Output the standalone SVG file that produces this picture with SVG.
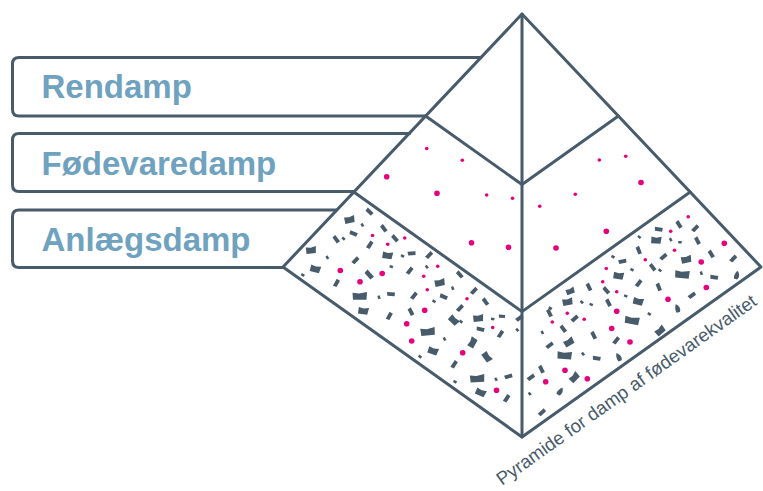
<svg xmlns="http://www.w3.org/2000/svg" xmlns:xlink="http://www.w3.org/1999/xlink" width="763" height="491" viewBox="0 0 763 491">
  <style>
    .line { fill: none; stroke: #485b6b; stroke-width: 3; stroke-linejoin: round; stroke-linecap: round; }
    .label { font-family: "Liberation Sans", Arial, sans-serif; font-weight: bold; font-size: 33px; fill: #6fa2bf; }
    .caption { font-family: "Liberation Sans", Arial, sans-serif; font-size: 18.6px; fill: #485b6b; }
    .fleck { fill: #485b6b; }
    .dot { fill: #e6007e; }
  </style>
  <defs>
    <polygon id="fA" class="fleck" points="-5,-3 0,-2.3 5.2,-3.6 4.6,3.4 -4.8,3.6"/>
    <polygon id="fB" class="fleck" points="-7.5,-3.3 -1,-2.4 7,-3.9 6.5,3.8 -7,3.8"/>
    <polygon id="fC" class="fleck" points="-4,-2.1 4,-1.6 3.6,2.2 -3.7,1.8"/>
    <polygon id="fD" class="fleck" points="-1.8,-1.2 1.8,-1.3 1.6,1.3 -1.7,1.2"/>
    <path id="fE" class="fleck" d="M0,-4.4 C2.8,-2.2 3.3,2.2 1.1,4.4 L-2.2,3.9 C-2.9,1.1 -1.7,-2.2 0,-4.4Z"/>
    <circle id="ds" class="dot" r="1.8"/>
    <circle id="dl" class="dot" r="2.8"/>
  </defs>

  <!-- label boxes, open on the pyramid side -->
  <g id="rendamp">
    <path class="line" d="M481,57.5 H19 Q12.5,57.5 12.5,64 V109.5 Q12.5,116 19,116 H425.6"/>
    <text class="label" x="41.5" y="98">Rendamp</text>
  </g>
  <g id="foedevaredamp">
    <path class="line" d="M409.6,133.5 H19 Q12.5,133.5 12.5,140 V185 Q12.5,191.5 19,191.5 H354"/>
    <text class="label" x="41.5" y="175">Fødevaredamp</text>
  </g>
  <g id="anlaegsdamp">
    <path class="line" d="M336.5,210 H19 Q12.5,210 12.5,216.5 V261 Q12.5,267.5 19,267.5 H283"/>
    <text class="label" x="41.5" y="251">Anlægsdamp</text>
  </g>

  <!-- middle tier: sparse particles -->
  <g id="tier-middle-texture">
    <use href="#ds" x="426.7" y="148.5"/>
    <use href="#ds" x="462.3" y="160.3"/>
    <use href="#dl" x="386.7" y="176.7"/>
    <use href="#dl" x="437" y="193.3"/>
    <use href="#ds" x="486.7" y="195"/>
    <use href="#ds" x="512.5" y="198.3"/>
    <use href="#dl" x="471.5" y="242.7"/>
    <use href="#dl" x="508.5" y="247.3"/>
    <use href="#ds" x="599.3" y="160"/>
    <use href="#ds" x="625.7" y="156.3"/>
    <use href="#dl" x="641" y="182.5"/>
    <use href="#ds" x="575.3" y="194.3"/>
    <use href="#ds" x="539.7" y="206.2"/>
    <use href="#dl" x="606.3" y="231.3"/>
    <use href="#dl" x="556" y="248"/>
  </g>

  <!-- bottom tier: dense flecks and particles -->
  <g id="tier-bottom-texture">
    <!-- left face -->
    <use href="#fC" transform="translate(369.5,211.7) rotate(40)"/>
    <use href="#fA" transform="translate(349.5,219.5) rotate(-10)"/>
    <use href="#fD" transform="translate(362.3,225) rotate(60)"/>
    <use href="#fC" transform="translate(383.8,228.3) rotate(50)"/>
    <use href="#fC" transform="translate(353.5,233.5) rotate(20)"/>
    <use href="#fC" transform="translate(336.2,239.3) rotate(50)"/>
    <use href="#fD" transform="translate(343.5,238.7) rotate(40)"/>
    <use href="#fC" transform="translate(395,238.3) rotate(45)"/>
    <use href="#fC" transform="translate(369.8,244.8) rotate(-60)"/>
    <use href="#fA" transform="translate(311,250) rotate(-5)"/>
    <use href="#fA" transform="translate(387.5,255.2) rotate(10)"/>
    <use href="#fD" transform="translate(327.3,257.5) rotate(60)"/>
    <use href="#fC" transform="translate(355.5,260.3) rotate(-50)"/>
    <use href="#fD" transform="translate(402.5,256) rotate(30)"/>
    <use href="#fC" transform="translate(411.7,253.3) rotate(-8)"/>
    <use href="#fC" transform="translate(429.2,255) rotate(-50)"/>
    <use href="#fA" transform="translate(315.3,268.8) rotate(15)"/>
    <use href="#fC" transform="translate(369.2,274.7) rotate(45) scale(1.2)"/>
    <use href="#fC" transform="translate(409.7,270.7) rotate(-55)"/>
    <use href="#fD" transform="translate(426.8,267) rotate(50)"/>
    <use href="#fD" transform="translate(302.8,275) rotate(30)"/>
    <use href="#fC" transform="translate(336.5,283) rotate(-65)"/>
    <use href="#fC" transform="translate(459.8,274.5) rotate(45)"/>
    <use href="#fA" transform="translate(439.7,282.5) rotate(-10)"/>
    <use href="#fD" transform="translate(452.7,288.2) rotate(70)"/>
    <use href="#fB" transform="translate(360,296) rotate(0)"/>
    <use href="#fD" transform="translate(379,297.3) rotate(70)"/>
    <use href="#fC" transform="translate(391,294) rotate(0)"/>
    <use href="#fC" transform="translate(414,295.7) rotate(-55)"/>
    <use href="#fC" transform="translate(443.7,296.7) rotate(20)"/>
    <use href="#fC" transform="translate(474,290.8) rotate(-50)"/>
    <use href="#fC" transform="translate(485.5,301.7) rotate(50)"/>
    <use href="#fD" transform="translate(434,301.3) rotate(30)"/>
    <use href="#fA" transform="translate(363.3,310.7) rotate(10)"/>
    <use href="#fC" transform="translate(389.3,316) rotate(-65)"/>
    <use href="#fC" transform="translate(411,311.7) rotate(60)"/>
    <use href="#fC" transform="translate(460,308) rotate(-50)"/>
    <use href="#fA" transform="translate(453.8,320) rotate(45)"/>
    <use href="#fD" transform="translate(461,321.7) rotate(40)"/>
    <use href="#fA" transform="translate(478.2,318) rotate(-5)"/>
    <use href="#fC" transform="translate(502,316.3) rotate(0) scale(0.8)"/>
    <use href="#fD" transform="translate(492.7,319) rotate(10)"/>
    <use href="#fC" transform="translate(519.5,318) rotate(-40)"/>
    <use href="#fB" transform="translate(428,331.5) rotate(-5)"/>
    <use href="#fC" transform="translate(480.5,329.2) rotate(10)"/>
    <use href="#fC" transform="translate(500.5,334) rotate(-60)"/>
    <use href="#fD" transform="translate(517.3,330) rotate(50)"/>
    <use href="#fD" transform="translate(444.5,339) rotate(60)"/>
    <use href="#fA" transform="translate(472.3,342.5) rotate(-60)"/>
    <use href="#fA" transform="translate(433,350.7) rotate(20)"/>
    <use href="#fA" transform="translate(487,356.7) rotate(55)"/>
    <use href="#fC" transform="translate(454.2,364.3) rotate(-60)"/>
    <use href="#fD" transform="translate(420,356.7) rotate(40)"/>
    <use href="#fB" transform="translate(477.5,378.3) rotate(-3)"/>
    <use href="#fD" transform="translate(496,379.3) rotate(60)"/>
    <use href="#fC" transform="translate(508.5,376.3) rotate(-20)"/>
    <use href="#fD" transform="translate(455,381.7) rotate(30)"/>
    <use href="#fA" transform="translate(480.7,392.3) rotate(25)"/>
    <use href="#fC" transform="translate(506.7,398.3) rotate(-60)"/>
    <use href="#fD" transform="translate(391.3,266.7) rotate(20)"/>

    <use href="#ds" x="372.5" y="235.5"/>
    <use href="#ds" x="387.7" y="244.2"/>
    <use href="#ds" x="404.7" y="238"/>
    <use href="#dl" x="340.3" y="270.5"/>
    <use href="#dl" x="382.2" y="273.5"/>
    <use href="#dl" x="360" y="281.7"/>
    <use href="#ds" x="437.7" y="266.2"/>
    <use href="#ds" x="423.7" y="276.3"/>
    <use href="#ds" x="427.3" y="289.8"/>
    <use href="#ds" x="467" y="298.8"/>
    <use href="#dl" x="424.7" y="310.3"/>
    <use href="#dl" x="406.7" y="323.7"/>
    <use href="#ds" x="492.7" y="327.5"/>
    <use href="#dl" x="411.7" y="341"/>
    <use href="#dl" x="462.7" y="352.7"/>
    <use href="#dl" x="496.5" y="390.2"/>

    <!-- right face -->
    <use href="#fC" transform="translate(679,224.5) rotate(55)"/>
    <use href="#fC" transform="translate(658.7,229.3) rotate(5)"/>
    <use href="#fC" transform="translate(695.3,228.3) rotate(-50)"/>
    <use href="#fA" transform="translate(656.2,240) rotate(5)"/>
    <use href="#fD" transform="translate(670.7,239.7) rotate(60)"/>
    <use href="#fD" transform="translate(680,242.2) rotate(0)"/>
    <use href="#fC" transform="translate(697.5,240.7) rotate(60)"/>
    <use href="#fD" transform="translate(639.3,237) rotate(40)"/>
    <use href="#fC" transform="translate(638.8,250.3) rotate(65)"/>
    <use href="#fC" transform="translate(663.5,256.7) rotate(-45)"/>
    <use href="#fA" transform="translate(686.2,259.3) rotate(-10)"/>
    <use href="#fC" transform="translate(711.3,254) rotate(55)"/>
    <use href="#fC" transform="translate(733.3,258.5) rotate(-50)"/>
    <use href="#fC" transform="translate(622.5,261.3) rotate(-15)"/>
    <use href="#fD" transform="translate(613,256.7) rotate(30)"/>
    <use href="#fC" transform="translate(652.7,267.3) rotate(50)"/>
    <use href="#fD" transform="translate(660,270.3) rotate(40)"/>
    <use href="#fD" transform="translate(632,269.7) rotate(30)"/>
    <use href="#fB" transform="translate(682.5,274.3) rotate(5)"/>
    <use href="#fD" transform="translate(701.3,273.2) rotate(70)"/>
    <use href="#fC" transform="translate(714.2,277.3) rotate(5)"/>
    <use href="#fE" transform="translate(736.7,275) rotate(10)"/>
    <use href="#fA" transform="translate(618.5,275.5) rotate(10)"/>
    <use href="#fC" transform="translate(638.7,283.3) rotate(-55)"/>
    <use href="#fC" transform="translate(589,287) rotate(60)"/>
    <use href="#fA" transform="translate(570.2,291) rotate(-20) scale(0.85)"/>
    <use href="#fC" transform="translate(606.3,290.3) rotate(45)"/>
    <use href="#fD" transform="translate(625.7,296) rotate(20)"/>
    <use href="#fC" transform="translate(658.8,287) rotate(65)"/>
    <use href="#fC" transform="translate(692,295.3) rotate(-40)"/>
    <use href="#fE" transform="translate(677.3,308.3) rotate(-20)"/>
    <use href="#fA" transform="translate(638.2,301.2) rotate(15)"/>
    <use href="#fA" transform="translate(567.5,301.7) rotate(-10)"/>
    <use href="#fD" transform="translate(581.8,302.2) rotate(40)"/>
    <use href="#fD" transform="translate(591.2,304.5) rotate(20)"/>
    <use href="#fC" transform="translate(608.5,302.7) rotate(60)"/>
    <use href="#fD" transform="translate(550.3,308.3) rotate(30)"/>
    <use href="#fC" transform="translate(549.5,313) rotate(60)"/>
    <use href="#fC" transform="translate(574.7,318.5) rotate(-45)"/>
    <use href="#fC" transform="translate(563.3,328.8) rotate(50)"/>
    <use href="#fD" transform="translate(542.3,332.5) rotate(60)"/>
    <use href="#fB" transform="translate(632.3,320.3) rotate(10)"/>
    <use href="#fD" transform="translate(649.3,314) rotate(30)"/>
    <use href="#fA" transform="translate(660,330.7) rotate(-40)"/>
    <use href="#fC" transform="translate(593.7,335.3) rotate(60)"/>
    <use href="#fC" transform="translate(616.2,340.5) rotate(-55)"/>
    <use href="#fA" transform="translate(568.8,342) rotate(-30)"/>
    <use href="#fC" transform="translate(549.7,345.2) rotate(-40)"/>
    <use href="#fD" transform="translate(583,354) rotate(50)"/>
    <use href="#fC" transform="translate(596.7,358.3) rotate(5)"/>
    <use href="#fB" transform="translate(564.8,355.2) rotate(5)"/>
    <use href="#fE" transform="translate(618.5,357) rotate(-30)"/>
    <use href="#fC" transform="translate(541.5,369.3) rotate(60)"/>
    <use href="#fC" transform="translate(531,377.3) rotate(-40)"/>
    <use href="#fA" transform="translate(574.2,377.3) rotate(-45)"/>
    <use href="#fE" transform="translate(560.2,391.2) rotate(30)"/>
    <use href="#fD" transform="translate(529.7,393.8) rotate(50)"/>
    <use href="#fC" transform="translate(542,412.3) rotate(-45)"/>

    <use href="#ds" x="688.2" y="216.7"/>
    <use href="#ds" x="670.7" y="231.2"/>
    <use href="#dl" x="724.3" y="243.3"/>
    <use href="#ds" x="674.5" y="250.3"/>
    <use href="#ds" x="645.3" y="259.7"/>
    <use href="#dl" x="701.2" y="262"/>
    <use href="#ds" x="606.3" y="268.5"/>
    <use href="#ds" x="602.7" y="281.7"/>
    <use href="#dl" x="706.3" y="287.5"/>
    <use href="#ds" x="616.7" y="291.7"/>
    <use href="#dl" x="668" y="299.3"/>
    <use href="#dl" x="616.7" y="311.2"/>
    <use href="#ds" x="567.3" y="313.3"/>
    <use href="#ds" x="584.2" y="319.3"/>
    <use href="#ds" x="552.3" y="322"/>
    <use href="#dl" x="611.7" y="328.5"/>
    <use href="#dl" x="630" y="342"/>
    <use href="#dl" x="565" y="370.3"/>
    <use href="#dl" x="545.7" y="381.7"/>
    <use href="#dl" x="587.3" y="378.7"/>
  </g>

  <!-- pyramid outline and tier boundaries -->
  <g id="pyramid">
    <path class="line" d="M522,14 L283,267 L522,437 L761,267 Z"/>
    <path class="line" d="M522,14 V437"/>
    <path class="line" d="M425.6,116 L522,184.5 L618.4,116"/>
    <path class="line" d="M353.8,192 L522,311.6 L690.2,192"/>
  </g>

  <text id="caption" class="caption" text-anchor="middle" transform="translate(630,395) rotate(-35.4)">Pyramide for damp af fødevarekvalitet</text>
</svg>
